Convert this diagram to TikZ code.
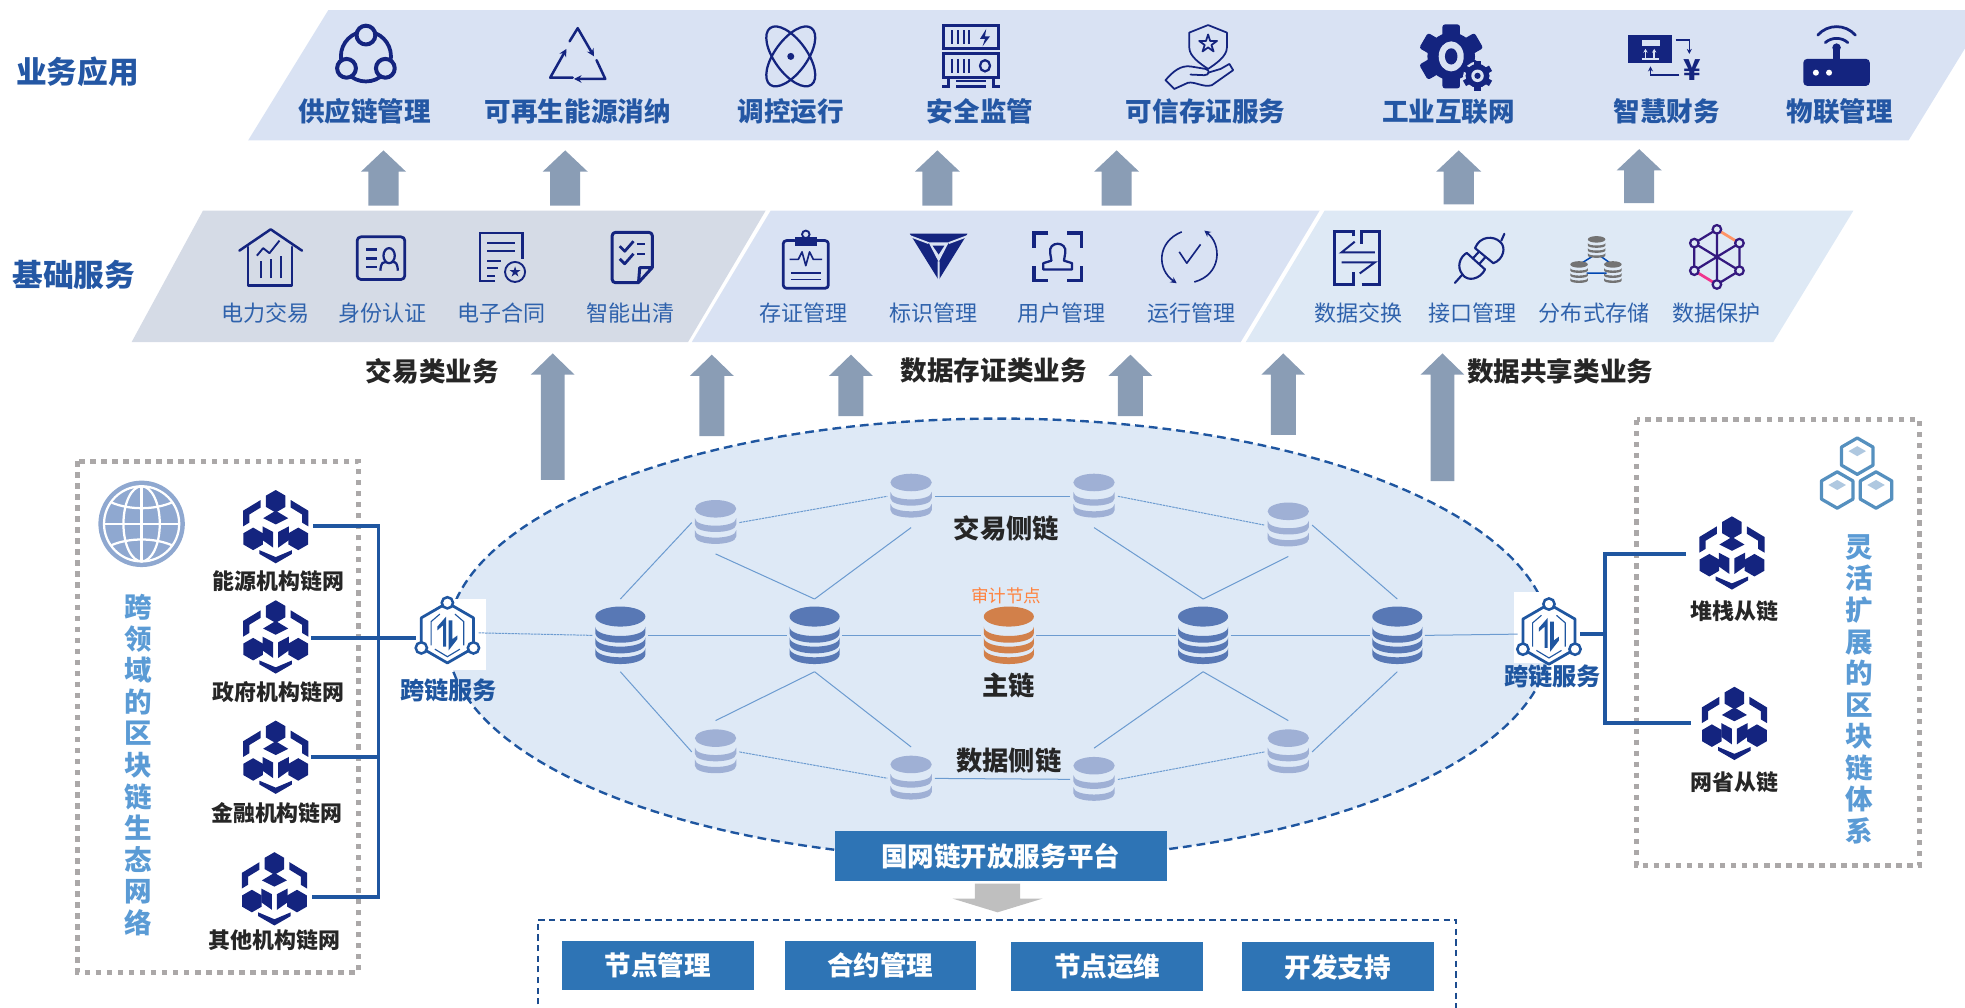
\documentclass[tikz,border=0pt]{standalone}
\usepackage{fontspec}
\setmainfont{Noto Sans CJK SC}
\usetikzlibrary{arrows.meta}
\definecolor{navy}{HTML}{14247F}
\definecolor{bandA}{HTML}{D9E2F3}
\definecolor{bandG}{HTML}{D5DBE6}
\definecolor{bandC}{HTML}{DEE9F5}
\definecolor{titleblue}{HTML}{2457A4}
\definecolor{sublabel}{HTML}{2F62AC}
\definecolor{arrowgray}{HTML}{8A9DB5}
\definecolor{linkblue}{HTML}{1F56A0}
\definecolor{edgeblue}{HTML}{6C9BD0}
\definecolor{dashgray}{HTML}{ABA8A8}
\definecolor{sideblue}{HTML}{5B9BD5}
\definecolor{platform}{HTML}{2E74B5}
\definecolor{dbbig}{HTML}{5878B5}
\definecolor{dbsmall}{HTML}{9FB0D5}
\definecolor{dborange}{HTML}{D2804A}
\definecolor{ellipsefill}{HTML}{DEE9F6}
\definecolor{globeblue}{HTML}{8FA8D0}
\definecolor{hexblue}{HTML}{5590BF}
\definecolor{hexlight}{HTML}{AFC8E0}
\newcommand{\fsz}[1]{\fontsize{#1}{#1}\selectfont}
\newcommand{\hexpath}[1]{(0,-#1) -- ({.866*#1},{-.5*#1}) -- ({.866*#1},{.5*#1}) -- (0,#1) -- ({-.866*#1},{.5*#1}) -- ({-.866*#1},{-.5*#1}) -- cycle}
\newcommand{\starpath}{(0,-1) -- (.22,-.31) -- (.95,-.31) -- (.36,.12) -- (.59,.81) -- (0,.38) -- (-.59,.81) -- (-.36,.12) -- (-.95,-.31) -- (-.22,-.31) -- cycle}
\newcommand{\uparr}[6]{\fill[#6] (#1-#4/2,#3) -- (#1-#4/2,#2+17) -- (#1-#5/2,#2+17) -- (#1,#2) -- (#1+#5/2,#2+17) -- (#1+#4/2,#2+17) -- (#1+#4/2,#3) -- cycle;}
\tikzset{
  x=1pt,y=-1pt,
  txt/.style={inner sep=0pt,outer sep=0pt,align=center},
  toplabel/.style={txt,text=titleblue,font=\bfseries\fsz{21.2}},
  sublabelb/.style={txt,text=sublabel,font=\fsz{17.6}},
  headlabel/.style={txt,text=titleblue,font=\bfseries\fsz{24.5}},
  catlabel/.style={txt,text=black!85,font=\bfseries\fsz{21.2}},
  netlabel/.style={txt,text=black!85,font=\bfseries\fsz{17.5}},
  sidelabel/.style={txt,text=sideblue,font=\bfseries\fontsize{22}{25.2}\selectfont},
  chainlabel/.style={txt,text=black!85,font=\bfseries\fsz{21}},
  ccmark/.style={txt,text=linkblue,font=\bfseries\fsz{19.3}},
  platebox/.style={txt,fill=platform,text=white,font=\bfseries\fsz{21.2}},
  icon/.style={draw=navy,line width=1.8pt,line cap=round,line join=round},
  bus/.style={draw=linkblue,line width=3pt},
  edge/.style={draw=edgeblue,line width=.8pt},
  dedge/.style={draw=edgeblue,line width=.8pt,dash pattern=on 2pt off .6pt},
  dbnodeL/.style={txt,minimum width=44pt,minimum height=58pt},
  dbnodeS/.style={txt,minimum width=38pt,minimum height=50pt},
  blocknode/.style={txt,minimum width=52pt,minimum height=58pt},
  ccnode/.style={txt,minimum width=50pt,minimum height=50pt},
  dotbox/.style={draw=dashgray,line width=4pt,dash pattern=on 4.4pt off 4.4pt},
  pics/blockicon/.style={code={
    \fill[navy,shift={(0,-20)}] \hexpath{9};
    \fill[navy,shift={(-18,10)}] \hexpath{9};
    \fill[navy,shift={(18,10)}] \hexpath{9};
    \fill[navy] (-12,-21) -- (-26,-12.5) -- (-26,0) -- (-21,-3) -- (-21,-9.5) -- (-12,-15) -- cycle;
    \fill[navy] (12,-21) -- (26,-12.5) -- (26,0) -- (21,-3) -- (21,-9.5) -- (12,-15) -- cycle;
    \fill[navy] (0,-12.5) -- (10,-6.5) -- (0,-1.5) -- (-10,-6.5) -- cycle;
    \fill[navy] (-10.5,0) -- (-2,4.5) -- (-2,17) -- (-10.5,11) -- cycle;
    \fill[navy] (10.5,0) -- (2,4.5) -- (2,17) -- (10.5,11) -- cycle;
    \fill[navy] (-13,19) -- (0,24.5) -- (13,19) -- (13,22) -- (0,29.5) -- (-13,22) -- cycle;
  }},
  pics/ccicon/.style={code={
    \draw[linkblue,line width=2.2pt,line join=round] \hexpath{24};
    \draw[linkblue,line width=.9pt] (-13,10) -- (-13,-9) -- (-6,-15) (6,-15) -- (13,-9) -- (13,10) (-10,13) -- (0,19) -- (10,13);
    \fill[linkblue] (-3.5,11) -- (-3.5,-6) -- (-8,-2) -- (-8,-5) -- (-1,-13) -- (-1,11) -- cycle;
    \fill[linkblue] (1,-10) -- (4,-10) -- (4,5) -- (8,2) -- (8,5) -- (1,14) -- cycle;
    \draw[linkblue,line width=2pt,fill=white] (0,-24) circle (4.5);
    \draw[linkblue,line width=2pt,fill=white] (-20.8,12) circle (4.5);
    \draw[linkblue,line width=2pt,fill=white] (20.8,12) circle (4.5);
  }},
  pics/dblarge/.style={code={
    \fill[#1] (0,-15) ellipse [x radius=20,y radius=8];
    \foreach \yy in {-7,1.5,10}{
      \fill[#1] (-20,\yy) .. controls (-20,\yy+10) and (20,\yy+10) .. (20,\yy) -- (20,\yy+5) .. controls (20,\yy+15.5) and (-20,\yy+15.5) .. (-20,\yy+5) -- cycle;
    }
  }},
  pics/dbmini/.style={code={
    \fill[#1] (0,-11) ellipse [x radius=16.5,y radius=7];
    \foreach \yy in {-3.5,6}{
      \fill[#1] (-16.5,\yy) .. controls (-16.5,\yy+8) and (16.5,\yy+8) .. (16.5,\yy) -- (16.5,\yy+5) .. controls (16.5,\yy+13) and (-16.5,\yy+13) .. (-16.5,\yy+5) -- cycle;
    }
  }},
  pics/dbtiny/.style={code={
    \fill[#1] (0,-6) ellipse [x radius=7,y radius=2.6];
    \foreach \yy in {-3,1,5}{
      \fill[#1] (-7,\yy) .. controls (-7,\yy+2.5) and (7,\yy+2.5) .. (7,\yy) -- (7,\yy+1.8) .. controls (7,\yy+4.4) and (-7,\yy+4.4) .. (-7,\yy+1.8) -- cycle;
    }
  }},
  pics/hexcell/.style={code={
    \draw[hexblue,line width=2.6pt,line join=round] \hexpath{14.5};
    \fill[hexlight] (0,-8) -- (7,-4) -- (0,0) -- (-7,-4) -- cycle;
  }},
}
\begin{document}
\begin{tikzpicture}
\useasboundingbox (0,0) rectangle (1568,803.6);
% ---------- bands
\fill[bandA] (262,8) -- (1568,8) -- (1568,38.6) -- (1523,112) -- (198,112) -- cycle;
\fill[bandG] (162,168) -- (611,168) -- (549,273) -- (105,273) -- cycle;
\fill[bandA] (615,168) -- (1053,168) -- (990,273) -- (552,273) -- cycle;
\fill[bandC] (1057,168) -- (1479,168) -- (1415,273) -- (994,273) -- cycle;
% ---------- head labels
\node[headlabel] (h1) at (62,57) {业务应用};
\node[headlabel] (h2) at (59,219) {基础服务};
% ---------- top labels
\foreach \nm/\xx/\tt in {a1/291/供应链管理,a2/461/可再生能源消纳,a3/631/调控运行,a4/782/安全监管,a5/962/可信存证服务,a6/1156/工业互联网,a7/1330/智慧财务,a8/1468/物联管理}{
  \node[toplabel] (\nm) at (\xx,89) {\tt};
}
% ---------- sub labels
\foreach \nm/\xx/\tt in {s1/212/电力交易,s2/305/身份认证,s3/400/电子合同,s4/503/智能出清,s5/641/存证管理,s6/745/标识管理,s7/847/用户管理,s8/951/运行管理,s9/1084/数据交换,s10/1175/接口管理,s11/1272/分布式存储,s12/1370/数据保护}{
  \node[sublabelb] (\nm) at (\xx,250) {\tt};
}
% ---------- top row icons
\begin{scope}[shift={(292,44)}]
  \draw[icon,line width=3pt] (0,1) circle (20);
  \draw[icon,line width=3.2pt,fill=bandA] (0,-16) circle (7.5);
  \draw[icon,line width=3.2pt,fill=bandA] (-15.5,10.5) circle (7.5);
  \draw[icon,line width=3.2pt,fill=bandA] (15.5,10.5) circle (7.5);
\end{scope}
\begin{scope}[shift={(461,45)}]
  \draw[icon,line width=2pt,-{Stealth[length=6pt,width=6pt]}] (-6.5,-12) -- (0,-22.5) -- (13,0);
  \draw[icon,line width=2pt,-{Stealth[length=6pt,width=6pt]}] (-4,17) -- (-22,17) -- (-9,-6);
  \draw[icon,line width=2pt,-{Stealth[length=6pt,width=6pt]}] (15,3) -- (22,18) -- (-3,18);
\end{scope}
\begin{scope}[shift={(631,45)}]
  \draw[icon,line width=1.8pt,rotate=36] (0,0) ellipse [x radius=13,y radius=28];
  \draw[icon,line width=1.8pt,rotate=-36] (0,0) ellipse [x radius=13,y radius=28];
  \fill[navy] (0,0) circle (2.8);
\end{scope}
\begin{scope}[shift={(775,45)}]
  \draw[icon,line width=2.4pt,line cap=butt,line join=miter] (-22,-25) rectangle (22,-6.5);
  \draw[icon,line width=2.4pt,line cap=butt,line join=miter] (-22,-2.5) rectangle (22,17);
  \foreach \xx in {-15,-10.5,-6,-1.5}{
    \draw[navy,line width=1.6pt] (\xx,-21) -- (\xx,-10);
    \draw[navy,line width=1.6pt] (\xx,2) -- (\xx,13);
  }
  \fill[navy] (12,-22) -- (7,-14) -- (11,-14) -- (9,-8) -- (15,-16) -- (11,-16) -- cycle;
  \draw[navy,line width=1.8pt] (11,7.5) ellipse [x radius=4,y radius=4.5];
  \draw[navy,line width=2.4pt] (-18,17) -- (-18,24) -- (-23,24) (18,17) -- (18,24) -- (23,24);
  \draw[navy,line width=1.6pt] (-12,20) -- (12,20);
  \draw[navy,line width=2.2pt] (-12,24) -- (12,24);
\end{scope}
\begin{scope}[shift={(964,47)}]
  \draw[icon,line width=1.4pt] (0,-27) -- (15,-21) -- (15,-9) .. controls (15,-2) and (6,4) .. (0,8) .. controls (-6,4) and (-15,-2) .. (-15,-9) -- (-15,-21) -- cycle;
  \draw[icon,line width=1.4pt,shift={(0,-12)},scale=7.5] \starpath;
  \draw[icon,line width=1.4pt] (-34,17) .. controls (-28,10) and (-22,5) .. (-14,6) -- (-2,8) .. controls (2,9) and (1,13) .. (-3,13) -- (-14,12.5);
  \draw[icon,line width=1.4pt] (0,11) -- (10,8) -- (17,4) -- (20,9) -- (3,21) .. controls (-4,23) and (-10,18) .. (-16,19) -- (-27,24) -- (-34,17);
\end{scope}
\begin{scope}[shift={(1158,45)}]
  \fill[navy] (0,0) circle (19);
  \foreach \aa in {0,60,...,300}{
    \fill[navy,rotate=\aa,rounded corners=2pt] (-7,-25.5) rectangle (7,-14);
  }
  \fill[bandA] (0,0) ellipse [x radius=10,y radius=12];
  \fill[navy] (0,0) ellipse [x radius=5,y radius=6.5];
  \begin{scope}[shift={(21,15.5)}]
    \draw[bandA,line width=2pt,fill=navy] (0,0) circle (10.5);
    \foreach \aa in {0,60,...,300}{
      \fill[navy,rotate=\aa] (-2.5,-12) rectangle (2.5,-8);
    }
    \fill[navy] (0,0) circle (9.5);
    \fill[bandA] (0,0) circle (5);
    \fill[navy] (0,0) circle (2.5);
  \end{scope}
\end{scope}
% finance icon
\fill[navy] (1299,28) rectangle (1334,50);
\fill[bandA] (1310,32) rectangle (1325,37);
\draw[navy,line width=1pt,dash pattern=on 1.2pt off 1.2pt] (1310,38) -- (1325,38);
\draw[bandA,line width=1pt] (1310,47) -- (1324,47);
\draw[bandA,line width=1.3pt,-{Stealth[length=3pt,width=3.5pt]}] (1313,46) -- (1313,39);
\draw[bandA,line width=1.3pt,-{Stealth[length=3pt,width=3.5pt]}] (1320,46) -- (1320,39);
\draw[navy,line width=1pt,-{Stealth[length=4pt,width=4pt]}] (1337,32) -- (1348,32) -- (1348,43);
\node[txt,text=navy,font=\bfseries\fsz{23}] (yen) at (1350,56) {¥};
\draw[navy,line width=1.2pt,-{Stealth[length=4pt,width=4pt]}] (1340,60) -- (1317,60) -- (1317,53);
% router icon
\begin{scope}[shift={(1465.5,45)}]
  \fill[navy,rounded corners=3pt] (-26.5,2) rectangle (26.5,23.5);
  \fill[navy] (-3,-7) rectangle (3,3);
  \fill[navy] (0,-7) circle (3.4);
  \fill[white] (-16.5,13) circle (2.4);
  \fill[white] (-6,13) circle (2.4);
  \draw[navy,line width=2.2pt,line cap=round] (-9,-11) .. controls (-4,-15.5) and (4,-15.5) .. (9,-11);
  \draw[navy,line width=2.2pt,line cap=round] (-15,-17) .. controls (-7,-26) and (7,-26) .. (15,-17);
\end{scope}
% ---------- second row icons
% house
\begin{scope}[shift={(216,205)}]
  \draw[icon,line width=2pt] (-25,-5) -- (0,-22) -- (25,-5);
  \draw[icon,line width=2pt] (-18,-8) -- (-18,23) -- (17,23) -- (17,-8);
  \draw[navy,line width=1.5pt,line join=round] (-11,-1) -- (-6,-7) -- (-1,-3) -- (7,-13);
  \draw[navy,line width=1.6pt] (-8,17) -- (-8,3) (0,17) -- (0,2) (8,17) -- (8,-1);
\end{scope}
% id
\begin{scope}[shift={(304,206)}]
  \draw[icon,line width=2.2pt,rounded corners=3pt] (-19,-17) rectangle (19,17);
  \draw[navy,line width=2.2pt] (-12,-7) -- (-3,-7) (-12,0) -- (-3,0) (-12,7) -- (-3,7);
  \draw[navy,line width=1.8pt] (6.5,-2) ellipse [x radius=4.5,y radius=6];
  \draw[navy,line width=1.8pt] (-.5,10) .. controls (0,3) and (2,3) .. (4,3) (9,3) .. controls (12,3) and (13,4) .. (13.5,10);
\end{scope}
% doc
\begin{scope}[shift={(400,205)}]
  \draw[icon,line cap=butt,line join=miter] (-5,19) -- (-17,19) -- (-17,-19) -- (17,-19) -- (17,2);
  \draw[navy,line width=1.8pt] (-11,-11) -- (11,-11) (-11,-5) -- (11,-5) (-11,3) -- (0,3) (-11,9) -- (-3,9) (-11,15) -- (-5,15);
  \draw[navy,line width=1.5pt] (11,12) circle (8);
  \fill[navy,shift={(11,12)},scale=4.5] \starpath;
\end{scope}
% checklist
\begin{scope}[shift={(504.5,205.5)}]
  \draw[icon,line width=2.4pt,rounded corners=2.5pt] (5,20) -- (-16,20) -- (-16,-20) -- (16,-20) -- (16,8);
  \draw[icon,line width=2.4pt] (5,20) -- (16,8) -- (6,8) -- (5,20);
  \draw[navy,line width=2.2pt,line join=round] (-10,-9) -- (-6,-5) -- (1,-13);
  \draw[navy,line width=2.2pt,line join=round] (-10,1) -- (-6,5) -- (1,-3);
  \draw[navy,line width=1.6pt] (4,-11) -- (10,-11) (4,-3) -- (10,-3);
\end{scope}
% clipboard
\begin{scope}[shift={(643,208)}]
  \draw[icon,line width=2.2pt,rounded corners=2.5pt] (-9,-16) -- (-18,-16) -- (-18,22) -- (18,22) -- (18,-16) -- (9,-16);
  \fill[navy] (-9,-19) rectangle (9,-12);
  \draw[navy,line width=1.5pt] (0,-21) circle (3);
  \draw[navy,line width=1.3pt,line join=round] (-13,-1) -- (-6,-1) -- (-3,-7) -- (0,4) -- (3,-7) -- (6,-1) -- (13,-1);
  \draw[navy,line width=1.3pt] (-12,10) -- (12,10) (-12,15) -- (12,15);
\end{scope}
% V logo
\begin{scope}[shift={(749,205)}]
  \fill[navy] (-23,-18.5) -- (23,-18.5) -- (0,18.5) -- cycle;
  \fill[bandA] (-8,-11.5) -- (8,-11.5) -- (0,4) -- cycle;
  \fill[navy] (-4.8,-9) -- (4.6,-9) -- (0,-1.9) -- cycle;
  \draw[bandA,line width=1.5pt] (-24,-17) -- (-8,-11) (24,-17) -- (8,-11) (0,3.5) -- (0,19.5);
\end{scope}
% user frame
\begin{scope}[shift={(844,205)}]
  \draw[navy,line width=2.6pt] (-7.5,-19) -- (-19,-19) -- (-19,-7.5) (7.5,-19) -- (19,-19) -- (19,-7.5) (-19,7.5) -- (-19,19) -- (-7.5,19) (19,7.5) -- (19,19) -- (7.5,19);
  \draw[navy,line width=1.8pt,line join=round] (-11.5,10) -- (-11.5,5) -- (-5,3) -- (-6,-3) .. controls (-8,-13) and (8,-13) .. (6,-3) -- (5,3) -- (11.5,5) -- (11.5,10) -- cycle;
\end{scope}
% refresh
\begin{scope}[shift={(949,205)}]
  \draw[navy,line width=1.3pt,-{Stealth[length=5pt,width=5pt]}] (-6,-20) .. controls (-26,-12) and (-26,10) .. (-10,21);
  \draw[navy,line width=1.3pt,-{Stealth[length=5pt,width=5pt]}] (4,20) .. controls (26,14) and (26,-10) .. (12,-21);
  \draw[navy,line width=1.3pt,line join=round] (-8,-4) -- (-2,5) -- (9,-10);
\end{scope}
% data exchange
\begin{scope}[shift={(1083,205.7)}]
  \draw[navy,line width=2.4pt] (-3,-17) -- (-3,-21) -- (-18,-21) -- (-18,21) -- (-3,21) -- (-3,11);
  \draw[navy,line width=2.4pt] (3.5,21) -- (18,21) -- (18,-21) -- (3.5,-21) -- (3.5,-11);
  \draw[navy,line width=1.6pt] (14,-4.3) -- (-12.5,-4.3) -- (-2,-12.8);
  \draw[navy,line width=1.6pt] (-12.5,3.7) -- (14,3.7) -- (2,12.5);
\end{scope}
% plug
\begin{scope}[shift={(1181,205)}]
  \draw[icon,line width=1.7pt] (-4,-7) -- (10.6,5) .. controls (19,2) and (21,-8) .. (16,-12) .. controls (11,-17) and (0,-17) .. (-4,-7) -- cycle;
  \draw[icon,line width=1.7pt] (17,-13) -- (19.4,-18.4);
  \draw[icon,line width=1.7pt] (-10.6,-3.2) -- (4,10) .. controls (0,18) and (-10,20) .. (-14,14) .. controls (-19,8) and (-16,0) .. (-10.6,-3.2) -- cycle;
  \draw[icon,line width=1.7pt] (-14,14) -- (-20,20.7);
  \draw[icon,line width=1.7pt] (-5.5,1) -- (-1,-4) (-.5,5.5) -- (4,.5);
\end{scope}
% distributed storage
\draw[blue!60!cyan!70!black,line width=1.2pt] (1270,205) -- (1262,210) (1278,205) -- (1285,210) (1266,218) -- (1282,218);
\pic at (1274,197) {dbtiny=black!55};
\pic at (1260,217) {dbtiny=black!55};
\pic at (1287,217) {dbtiny=black!55};
% network
\begin{scope}[shift={(1370,205)}]
  \draw[navy!70!violet,line width=1.8pt] (0,-22) -- (-18,-11) -- (-18,11) (0,22) -- (18,11) -- (18,-11);
  \draw[orange!60!red!60!white,line width=2.2pt] (0,-22) -- (18,-11);
  \draw[magenta!80!red!80!white,line width=2.2pt] (0,22) -- (-18,11);
  \draw[navy!70!violet,line width=1.8pt] (0,-22) -- (0,22) (-18,-11) -- (18,11) (-18,11) -- (18,-11);
  \foreach \px/\py in {0/-22,-18/-11,18/-11,-18/11,18/11,0/22}{
    \draw[navy!70!violet,line width=1.8pt,fill=bandC] (\px,\py) circle (3.4);
  }
\end{scope}
% ---------- row 1 arrows
\uparr{306}{120}{164}{24}{36}{arrowgray}
\uparr{451}{120}{164}{24}{36}{arrowgray}
\uparr{748}{120}{164}{24}{36}{arrowgray}
\uparr{891}{120}{164}{24}{36}{arrowgray}
\uparr{1164}{120}{163}{24}{36}{arrowgray}
\uparr{1308}{119}{162}{24}{36}{arrowgray}
% ---------- category labels
\node[catlabel] (c1) at (345,296) {交易类业务};
\node[catlabel] (c2) at (793,296) {数据存证类业务};
\node[catlabel] (c3) at (1245,296) {数据共享类业务};
% ---------- ellipse
\draw[fill=ellipsefill,draw=linkblue,line width=1.9pt,dash pattern=on 7pt off 4pt] (797,510) ellipse [x radius=440,y radius=176];
% ---------- row 2 arrows
\uparr{441}{282}{383}{19}{35}{arrowgray}
\uparr{568}{283}{348}{20}{35}{arrowgray}
\uparr{679}{283}{332}{20}{35}{arrowgray}
\uparr{902}{283}{332}{20}{35}{arrowgray}
\uparr{1024}{282}{347}{20}{35}{arrowgray}
\uparr{1151}{282}{384}{19}{35}{arrowgray}
% ---------- white patches behind cross-chain icons
\fill[white] (330,478) rectangle (388,535);
\fill[white] (1208,472) rectangle (1262,529);
% ---------- network nodes
\node[dbnodeL] (m1) at (495,507) {};
\node[dbnodeL] (m2) at (650,507) {};
\node[dbnodeL] (m3) at (805,507) {};
\node[dbnodeL] (m4) at (960,507) {};
\node[dbnodeL] (m5) at (1115,507) {};
\node[dbnodeS] (u1) at (571,417) {};
\node[dbnodeS] (u2) at (727,396) {};
\node[dbnodeS] (u3) at (873,396) {};
\node[dbnodeS] (u4) at (1028,419) {};
\node[dbnodeS] (l1) at (571,600) {};
\node[dbnodeS] (l2) at (727,621) {};
\node[dbnodeS] (l3) at (873,622) {};
\node[dbnodeS] (l4) at (1028,600) {};
\node[ccnode] (cc1) at (357,505) {};
\node[ccnode] (cc2) at (1236,506) {};
\node[blocknode] (b1) at (220,420) {};
\node[blocknode] (b2) at (220,509) {};
\node[blocknode] (b3) at (220,604) {};
\node[blocknode] (b4) at (219,709) {};
\node[blocknode] (b5) at (1382,441) {};
\node[blocknode] (b6) at (1384,577) {};
% edges
\draw[dedge] (cc1.east) -- (m1.west);
\draw[edge] (m1) -- (m2);
\draw[edge] (m2) -- (m3);
\draw[edge] (m3) -- (m4);
\draw[edge] (m4) -- (m5);
\draw[edge] (m5.east) -- (cc2.west);
\draw[edge] (m1.north) -- (u1.west);
\draw[edge] (m2.north) -- (u1.south);
\draw[edge] (m2.north) -- (u2.south);
\draw[edge] (m4.north) -- (u3.south);
\draw[edge] (m4.north) -- (u4.south);
\draw[edge] (m5.north) -- (u4.east);
\draw[dedge] (u1.east) -- (u2.west);
\draw[edge] (u2) -- (u3);
\draw[dedge] (u3.east) -- (u4.west);
\draw[edge] (m1.south) -- (l1.west);
\draw[edge] (m2.south) -- (l1.north);
\draw[edge] (m2.south) -- (l2.north);
\draw[edge] (m4.south) -- (l3.north);
\draw[edge] (m4.south) -- (l4.north);
\draw[edge] (m5.south) -- (l4.east);
\draw[dedge] (l1.east) -- (l2.west);
\draw[edge] (l2) -- (l3);
\draw[dedge] (l3.east) -- (l4.west);
% db pics
\pic at (m1) {dblarge=dbbig};
\pic at (m2) {dblarge=dbbig};
\pic at (m3) {dblarge=dborange};
\pic at (m4) {dblarge=dbbig};
\pic at (m5) {dblarge=dbbig};
\foreach \nn in {u1,u2,u3,u4,l1,l2,l3,l4}{ \pic at (\nn) {dbmini=dbsmall}; }
% network text
\node[chainlabel] (t1) at (803,422) {交易侧链};
\node[chainlabel] (t2) at (805,547) {主链};
\node[txt,text=orange!70!red!75!white,font=\fsz{14}] (t3) at (803,475) {审计节点};
\node[chainlabel] (t4) at (805,607) {数据侧链};
% ---------- dotted boxes
\draw[dotbox] (62,368) rectangle (286,776);
\draw[dotbox] (1306,335) rectangle (1532,691);
% ---------- connectors
\coordinate (tL) at (302,509);
\coordinate (tR) at (1281,506);
\draw[bus] ([xshift=4pt]b1.east) -| (tL);
\draw[bus] ([xshift=2pt]b2.east) -- (cc1.west |- b2.east);
\draw[bus] ([xshift=2pt]b3.east) -| (tL);
\draw[bus] ([xshift=4pt,yshift=-7pt]b4.east) -| (tL);
\draw[bus] (cc2.east) -- (tR);
\draw[bus] ([xshift=-11pt,yshift=-1pt]b5.west) -| (tR);
\draw[bus] ([xshift=-9pt]b6.west) -| (tR);
% ---------- block icons
\foreach \nn in {b1,b3,b4,b5,b6}{ \pic at (\nn) {blockicon}; }
\pic at (220,508) {blockicon};
\pic at (cc1) {ccicon};
\pic at (cc2) {ccicon};
\node[netlabel] (n1) at (222,464) {能源机构链网};
\node[netlabel] (n2) at (222,552) {政府机构链网};
\node[netlabel] (n3) at (221,649) {金融机构链网};
\node[netlabel] (n4) at (219,750) {其他机构链网};
\node[netlabel] (n5) at (1384,488) {堆栈从链};
\node[netlabel] (n6) at (1384,624) {网省从链};
\node[ccmark] (k1) at (358,551) {跨链服务};
\node[ccmark] (k2) at (1239,540) {跨链服务};
% side text
\node[sidelabel] (v1) at (110,610.5) {跨\\领\\域\\的\\区\\块\\链\\生\\态\\网\\络};
\node[sidelabel] (v2) at (1484,550) {灵\\活\\扩\\展\\的\\区\\块\\链\\体\\系};
% globe
\begin{scope}[shift={(113,418)}]
  \fill[globeblue] (0,0) circle (34.5);
  \begin{scope}[white,line width=1.8pt]
    \draw (0,0) circle (30);
    \draw (0,-30) -- (0,30);
    \draw (-30,0) -- (30,0);
    \draw (0,0) ellipse [x radius=14.5,y radius=30];
    \draw (-24,-17) .. controls (-10,-11) and (10,-11) .. (24,-17);
    \draw (-24,17) .. controls (-10,11) and (10,11) .. (24,17);
  \end{scope}
\end{scope}
% hexes
\pic at (1482,364) {hexcell};
\pic at (1466,391) {hexcell};
\pic at (1497,391) {hexcell};
% ---------- platform
\node[platebox,minimum width=265pt,minimum height=40pt] (p0) at (798.5,683) {国网链开放服务平台};
\fill[black!25] (778,705) -- (814,705) -- (814,717) -- (832,717) -- (796,728) -- (760,717) -- (778,717) -- cycle;
\draw[draw=linkblue!90!black,line width=1.6pt,dash pattern=on 5pt off 3.5pt] (429,810) -- (429,734) -- (1162,734) -- (1162,810);
\node[platebox,minimum width=153pt,minimum height=39pt] (q1) at (525,770.5) {节点管理};
\node[platebox,minimum width=153pt,minimum height=39pt] (q2) at (702.5,770.5) {合约管理};
\node[platebox,minimum width=153pt,minimum height=39pt] (q3) at (883.5,771.5) {节点运维};
\node[platebox,minimum width=153pt,minimum height=39pt] (q4) at (1067.5,771.5) {开发支持};
\end{tikzpicture}
\end{document}
